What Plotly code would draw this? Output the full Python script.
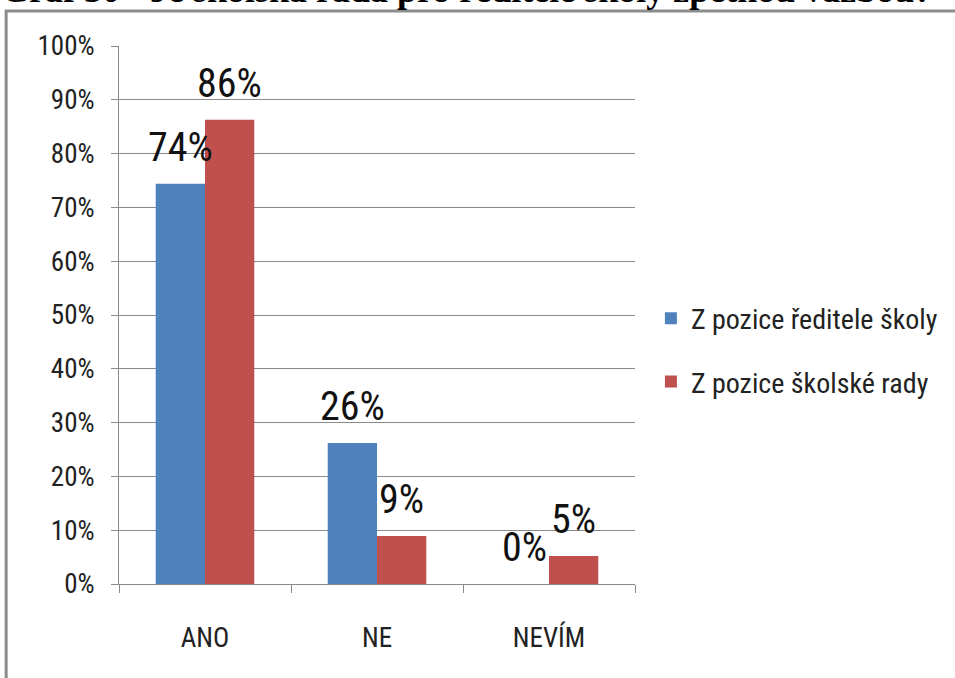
import plotly.graph_objects as go

categories = ["ANO", "NE", "NEVÍM"]
series_names = ["Z pozice ředitele školy", "Z pozice školské rady"]
reditel = [0.744, 0.262, 0.0]
rada = [0.863, 0.089, 0.052]
reditel_labels = ["74%", "26%", "0%"]
rada_labels = ["86%", "9%", "5%"]
y_ticks = [i / 10 for i in range(11)]
y_tick_labels = [f"{i*10}%" for i in range(11)]
title_text = "Graf 30 - Je školská rada pro ředitele školy zpětnou vazbou?"

colors = ["#4F81BD", "#C0504D"]
FONT = "Liberation Sans Narrow, Roboto Condensed, Open Sans, sans-serif"

W, H = 955, 678
PL, PR, PT, PB = 119, 638, 46, 584
ML, MT, MR, MB = PL, PT, W - PR, H - PB
pw = PR - PL
ph = PB - PT

def px_to_paper_x(px):
    return (px - PL) / pw

def px_to_paper_y(py):
    return (PB - py) / ph

fig = go.Figure()
for name, vals, col, grp in [(series_names[0], reditel, colors[0], "a"),
                              (series_names[1], rada, colors[1], "b")]:
    fig.add_trace(go.Bar(x=categories, y=vals, name=name, marker_color=col,
                         marker_line_width=0, legendgroup=grp))

bar_w = pw / 3 * (1 - 0.427) / 2
ann = []
for i, c in enumerate(categories):
    ann.append(dict(x=c, y=reditel[i], text=reditel_labels[i], xref="x", yref="y",
                    showarrow=False, xshift=-bar_w / 2, yshift=11, yanchor="bottom",
                    font=dict(family=FONT, size=40, color="#111")))
    ann.append(dict(x=c, y=rada[i], text=rada_labels[i], xref="x", yref="y",
                    showarrow=False, xshift=bar_w / 2, yshift=11, yanchor="bottom",
                    font=dict(family=FONT, size=40, color="#111")))

ann.append(dict(text="<b>" + title_text + "</b>", xref="paper", yref="paper", x=px_to_paper_x(-2),
                y=px_to_paper_y(12), xanchor="left", yanchor="bottom", showarrow=False,
                font=dict(family="Liberation Serif, Times New Roman, serif", size=36, color="#000"),
                ))

fig.update_layout(
    width=W, height=H,
    margin=dict(l=ML, r=MR, t=MT, b=MB),
    paper_bgcolor="white", plot_bgcolor="white",
    barmode="group", bargap=0.427, bargroupgap=0,
    font=dict(family=FONT, size=27, color="#222"),
    annotations=ann,
    legend=dict(x=px_to_paper_x(654), y=px_to_paper_y(350), xanchor="left", yanchor="middle",
                traceorder="grouped", tracegroupgap=24,
                font=dict(family=FONT, size=28, color="#222"), bgcolor="rgba(0,0,0,0)"),
    shapes=[dict(type="rect", xref="paper", yref="paper",
                 x0=px_to_paper_x(5.5), x1=px_to_paper_x(990),
                 y0=px_to_paper_y(720), y1=px_to_paper_y(11),
                 line=dict(color="#8c8c8c", width=3), fillcolor="rgba(0,0,0,0)", layer="below")],
    xaxis=dict(showline=True, linecolor="#8a8a8a", linewidth=1, ticks="outside",
               tickson="boundaries", ticklen=8, tickcolor="#8a8a8a",
               ticklabelstandoff=30, tickfont=dict(size=27, color="#222"), showgrid=False),
    yaxis=dict(range=[0, 1], tickvals=y_ticks, ticktext=y_tick_labels,
               showgrid=True, gridcolor="#8a8a8a", gridwidth=1,
               showline=True, linecolor="#8a8a8a", linewidth=1,
               ticks="outside", ticklen=7, tickcolor="#8a8a8a",
               ticklabelstandoff=11, tickfont=dict(size=27, color="#222"), zeroline=False),
)

fig.write_html("out.html", config={"displayModeBar": False},
               post_script="document.body.style.margin='0';document.body.style.overflow='hidden';")
